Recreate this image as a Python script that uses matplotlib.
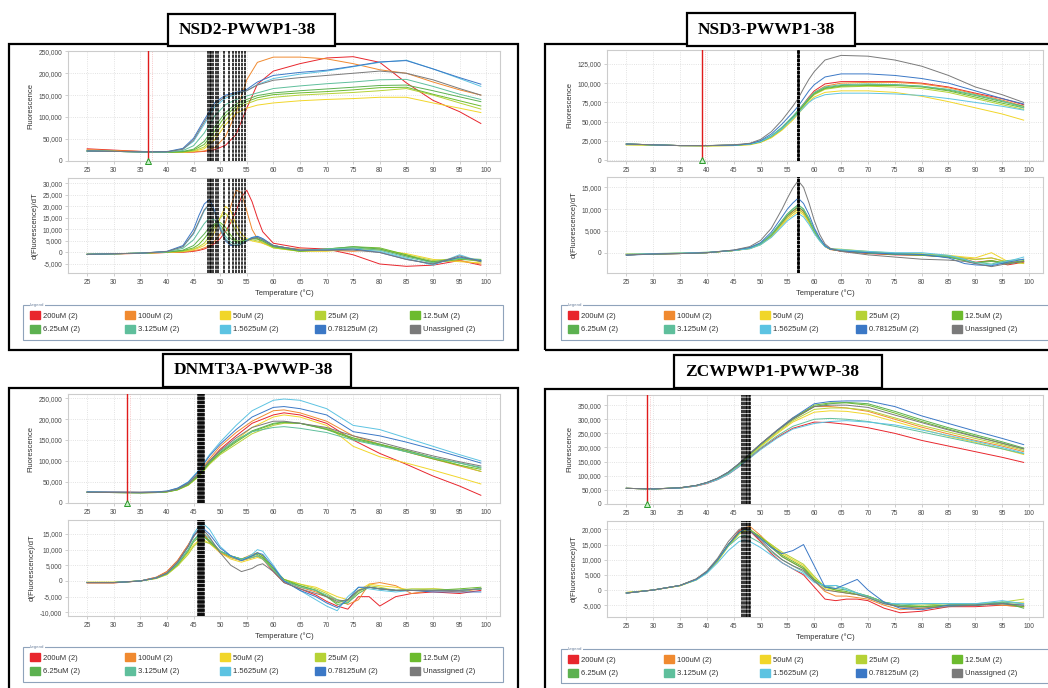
import matplotlib.pyplot as plt
from matplotlib.patches import Rectangle, Patch
from matplotlib.ticker import FuncFormatter

W, H = 1048, 688

# legend groups (same in every panel)
groups = ['200uM (2)', '100uM (2)', '50uM (2)', '25uM (2)', '12.5uM (2)',
          '6.25uM (2)', '3.125uM (2)', '1.5625uM (2)', '0.78125uM (2)', 'Unassigned (2)']
group_colors = ['#e8262d', '#f08a30', '#f1d62a', '#b6d236', '#6cbb2e',
                '#5cb150', '#5fbf9c', '#5cc3e2', '#3b78c6', '#7a7a7a']

titles = ['NSD2-PWWP1-38', 'NSD3-PWWP1-38', 'DNMT3A-PWWP-38', 'ZCWPWP1-PWWP-38']
thresholds = [36.5, 39.0, 32.4, 28.8]
xticks = list(range(25, 101, 5))

# ---------------- NSD2 (values in thousands) ----------------
nsd2_temp_f = [25, 30, 35, 40, 43, 45, 47, 49, 51, 53, 55, 57, 60, 65, 70, 75, 80, 85, 90, 95, 99]
nsd2_fluor = [
    [27, 24, 21, 19, 19, 19.5, 21, 25, 35, 60, 120, 175, 205, 222, 235, 238, 225, 178, 138, 112, 85],
    [25, 23, 21, 19, 19, 20, 22, 30, 55, 110, 185, 225, 237, 237, 233, 222, 208, 200, 180, 162, 150],
    [22, 21, 20, 19, 19, 21, 27, 48, 82, 108, 120, 127, 132, 137, 140, 142, 145, 145, 132, 120, 110],
    [22, 21, 20, 19, 19.5, 22, 31, 58, 92, 118, 130, 139, 145, 150, 153, 156, 160, 165, 150, 132, 118],
    [22, 21, 20, 19, 20, 24, 37, 68, 103, 124, 135, 144, 151, 155, 158, 162, 167, 168, 152, 137, 125],
    [22, 21, 20, 19, 21, 26, 44, 78, 110, 130, 140, 149, 155, 160, 164, 168, 172, 173, 160, 146, 135],
    [22, 21, 20, 19.5, 23, 34, 63, 103, 128, 140, 148, 155, 165, 171, 176, 180, 185, 186, 170, 152, 140],
    [22, 21, 20, 20, 26, 44, 83, 123, 143, 152, 160, 174, 188, 198, 205, 215, 225, 230, 210, 188, 170],
    [22, 21, 20, 20.5, 28, 51, 93, 133, 150, 156, 163, 180, 195, 202, 207, 216, 226, 229, 210, 190, 175],
    [22, 21, 20, 20, 26, 47, 88, 128, 147, 154, 160, 173, 184, 190, 195, 200, 205, 200, 185, 165, 150],
]
nsd2_temp_d = [25, 35, 40, 43, 45, 46, 47, 48, 49, 50, 51, 52, 53, 54, 55, 56, 57, 58, 60, 65, 70, 75, 80, 85, 90, 95, 99]
nsd2_deriv = [
    [-0.8, -0.4, 0, 0.1, 0.5, 0.9, 1.5, 2.5, 4, 6, 9, 13, 18, 24, 27, 22, 15, 9, 4, 2, 1.5, -1, -5, -6, -5.5, -3.5, -5.5],
    [-0.8, -0.4, 0, 0.2, 0.8, 1.2, 2, 3, 5, 8, 13, 20, 27, 26, 18, 10, 6, 4, 2.5, 1.5, 1, 0.5, 1.5, -1.5, -4, -3.5, -5],
    [-0.8, -0.3, 0.1, 0.4, 1.2, 2, 3, 5, 9, 15, 20, 18, 12, 8, 6, 5, 4.5, 4, 2, 0.5, 0.5, 1.5, 1, -0.5, -3, -4, -4.5],
    [-0.8, -0.3, 0.1, 0.5, 1.5, 2.5, 4, 7, 11, 15, 17, 14, 9, 6, 5.5, 5.5, 5, 4.5, 2, 0.5, 1, 2, 1.5, -1, -3.5, -2.5, -4],
    [-0.8, -0.3, 0.2, 0.8, 2, 3.5, 6, 9, 12, 13, 11, 7.5, 5, 5, 5.5, 6, 5.8, 5, 2.5, 0.5, 1.5, 2.5, 2, -1, -4.5, -3, -3.5],
    [-0.8, -0.3, 0.2, 1, 3, 5.5, 8, 11, 12.5, 12, 9, 6, 4.5, 4.5, 5.5, 6, 6, 5, 2.5, 0.8, 1.5, 2.5, 1.5, -1.5, -4, -2.5, -3],
    [-0.8, -0.3, 0.3, 1.8, 5.5, 9, 12.5, 15, 14, 11, 7, 4.5, 3.5, 4, 5.5, 6.5, 6.5, 5.5, 3, 1, 1.5, 2, 1, -2, -4.5, -2.5, -3.5],
    [-0.8, -0.3, 0.4, 2.5, 8, 13, 18, 21, 17, 11, 6, 3.5, 3, 3.5, 5, 6.5, 7, 6, 3, 1, 1.2, 1.5, 0.5, -2.5, -5.5, -1, -4],
    [-0.8, -0.3, 0.5, 3, 10, 16, 21, 23, 18, 10, 5, 3, 3, 3.5, 5, 6.5, 7, 6, 3, 1, 1, 1.5, 0, -3, -5, -2, -3.5],
    [-0.8, -0.3, 0.4, 2.5, 8.5, 13.5, 18.5, 21, 17, 10, 5.5, 3.5, 3, 3.5, 5, 6, 6.5, 5.5, 3, 1, 1, 1, 0, -3, -5, -1.5, -4],
]
nsd2_tm = [47.7, 48.0, 48.3, 48.7, 49.3, 49.6, 50.7, 51.7, 52.5, 52.9, 53.5, 54.1, 54.6]

# ---------------- NSD3 ----------------
nsd3_temp_f = [25, 30, 35, 40, 45, 48, 50, 52, 54, 56, 57, 58, 59, 60, 62, 65, 70, 75, 80, 85, 90, 95, 99]
nsd3_fluor = [
    [21, 20, 19, 19, 19.5, 21, 24, 31, 42, 56, 64, 73, 82, 90, 99, 102, 102, 102, 100, 95, 87, 80, 72],
    [21, 20, 19, 19, 19.5, 21, 24, 31, 41, 55, 63, 72, 80, 88, 96, 100, 101, 101, 99, 94, 86, 78, 70],
    [20, 19.5, 19, 18.5, 19, 20, 23, 29, 39, 52, 60, 68, 76, 82, 88, 90, 90, 88, 83, 76, 68, 60, 52],
    [20, 19.5, 19, 18.5, 19, 20.5, 23.5, 30, 40, 54, 62, 70, 78, 85, 92, 95, 96, 95, 93, 88, 80, 72, 66],
    [21, 20, 19, 19, 19.5, 21, 24, 31, 41, 55, 63, 71, 79, 86, 93, 96, 97, 97, 95, 90, 82, 74, 68],
    [21, 20, 19, 19, 19.5, 21, 24, 31, 42, 56, 64, 72, 80, 87, 94, 97, 98, 98, 96, 91, 84, 76, 70],
    [21, 20, 19, 19, 19.5, 21, 24.5, 32, 43, 57, 65, 73, 81, 88, 95, 98, 99, 98, 96, 92, 85, 77, 68],
    [21, 20, 19, 19, 19.5, 21, 24, 31, 41, 54, 61, 68, 75, 80, 85, 87, 87, 86, 84, 80, 75, 70, 65],
    [21, 20, 19, 19, 19.5, 21.5, 25.5, 34, 47, 62, 70, 80, 90, 98, 108, 112, 112, 110, 106, 100, 90, 80, 73],
    [21, 20, 19, 19, 20, 22, 27, 37, 52, 70, 80, 93, 105, 115, 130, 136, 135, 130, 122, 110, 95, 85, 75],
]
nsd3_temp_d = [25, 30, 35, 40, 45, 48, 50, 52, 54, 55, 56, 57, 58, 59, 60, 61, 62, 63, 65, 70, 75, 80, 85, 88, 90, 93, 96, 99]
nsd3_deriv = [
    [-0.5, -0.3, -0.2, 0, 0.5, 1, 2, 4, 7, 8.5, 9.5, 10.5, 9.5, 7.5, 5, 3, 1.5, 0.8, 0.3, -0.2, -0.5, -0.6, -1, -1.5, -2.2, -1.8, -2.8, -2.2],
    [-0.5, -0.3, -0.2, 0, 0.5, 1, 2, 3.9, 6.7, 8.1, 9.1, 10, 9.1, 7.2, 4.8, 2.9, 1.4, 0.7, 0.4, 0, -0.4, -0.5, -0.9, -1.2, -1.5, -1.2, -2.2, -2],
    [-0.4, -0.3, -0.1, 0, 0.5, 0.9, 1.8, 3.6, 6.3, 7.7, 8.6, 9.5, 8.7, 6.9, 4.6, 2.8, 1.4, 0.8, 0.6, 0.2, -0.2, -0.3, -0.6, -1, -1.2, 0, -2, -2.5],
    [-0.3, -0.2, -0.1, 0.1, 0.5, 1, 1.9, 3.8, 6.6, 8.1, 9.1, 10, 9.1, 7.1, 4.8, 2.9, 1.5, 0.9, 0.8, 0.3, -0.1, -0.3, -0.7, -1.3, -1.6, -1.2, -2.1, -2.4],
    [-0.5, -0.3, -0.2, 0, 0.5, 1.1, 2.1, 4.2, 7.3, 8.9, 10, 11, 10, 7.9, 5.2, 3.1, 1.5, 0.8, 0.5, 0, -0.3, -0.5, -1, -1.8, -2.3, -1.8, -2.4, -1.8],
    [-0.5, -0.3, -0.2, 0, 0.5, 1, 2, 4, 7, 8.5, 9.6, 10.5, 9.6, 7.6, 5, 3, 1.5, 0.8, 0.4, -0.1, -0.4, -0.6, -1, -1.8, -2.4, -2, -2.6, -2],
    [-0.4, -0.3, -0.1, 0, 0.5, 1.1, 2.1, 4.2, 7.3, 8.9, 10, 11, 10, 7.8, 5.2, 3.1, 1.5, 0.9, 0.6, 0.1, -0.2, -0.4, -0.8, -1.6, -2.2, -2.6, -1.8, -1.5],
    [-0.4, -0.2, -0.1, 0.1, 0.5, 0.9, 1.8, 3.5, 6, 7.3, 8.2, 9, 8.2, 6.5, 4.4, 2.7, 1.4, 0.9, 0.7, 0.3, 0, 0, -0.6, -1.5, -2.5, -2.8, -2, -1],
    [-0.6, -0.3, -0.2, 0, 0.6, 1.2, 2.3, 4.7, 8.2, 10, 11.4, 12.5, 11.3, 8.8, 5.7, 3.4, 1.6, 0.8, 0.4, 0, -0.3, -0.4, -1.2, -2.5, -2.8, -3, -2.2, -1.5],
    [-0.5, -0.3, -0.2, 0, 0.6, 1.4, 2.8, 5.6, 10, 12.5, 14.8, 16.5, 15, 11.5, 7.4, 4.2, 2, 1, 0.3, -0.5, -1, -1.5, -1.7, -2, -2.5, -3.2, -2.5, -2],
]
nsd3_tm = [56.9, 57.0, 57.1, 57.2]

# ---------------- DNMT3A ----------------
dnmt_temp_f = [25, 30, 35, 38, 40, 42, 44, 46, 48, 50, 53, 56, 60, 62, 65, 70, 75, 80, 85, 90, 95, 99]
dnmt_fluor = [
    [26, 25.5, 25, 25.5, 27, 33, 45, 68, 100, 128, 160, 190, 210, 215, 210, 190, 150, 118, 92, 64, 40, 18],
    [26, 25.5, 25, 25.5, 27, 34, 47, 72, 105, 135, 168, 195, 220, 222, 215, 195, 160, 140, 122, 105, 88, 75],
    [25, 24.5, 24, 24.5, 26, 31, 42, 64, 95, 120, 150, 180, 205, 210, 205, 185, 135, 110, 95, 78, 60, 45],
    [25, 24.5, 24, 24.5, 26, 31, 42, 63, 92, 115, 140, 165, 185, 190, 190, 178, 155, 140, 125, 108, 90, 75],
    [25, 24.5, 24, 24.5, 26, 31, 43, 65, 95, 118, 145, 170, 188, 192, 190, 175, 152, 138, 122, 105, 90, 80],
    [25, 24.5, 24, 24.5, 26.5, 32, 44, 67, 97, 120, 148, 172, 190, 193, 190, 176, 155, 140, 125, 108, 95, 83],
    [25, 24.5, 24, 25, 27, 33, 46, 70, 100, 123, 150, 170, 180, 182, 178, 168, 150, 136, 122, 108, 95, 85],
    [26, 25.5, 25, 26, 28, 35, 50, 78, 115, 145, 185, 220, 245, 248, 245, 225, 185, 175, 155, 135, 115, 100],
    [26, 25.5, 25, 26, 28, 35, 49, 76, 112, 140, 175, 205, 228, 230, 225, 210, 170, 160, 145, 128, 110, 95],
    [25, 24.5, 24, 25, 27, 33, 46, 70, 100, 125, 155, 180, 195, 195, 190, 180, 160, 145, 128, 112, 98, 88],
]
dnmt_temp_d = [25, 30, 35, 38, 40, 42, 44, 45, 46, 47, 48, 50, 52, 54, 56, 57, 58, 60, 62, 65, 68, 70, 72, 74, 76, 78, 80, 83, 86, 90, 95, 99]
dnmt_deriv = [
    [-0.6, -0.6, 0, 1.2, 3, 6.5, 11.5, 14.5, 16, 15, 12.5, 9, 7.5, 6.5, 7.5, 8, 7, 3, -0.5, -2.5, -4.5, -6.5, -8, -9, -5, -5, -8, -5, -4, -3.5, -4, -3],
    [-0.6, -0.6, 0, 1.2, 3, 6.5, 11.5, 14.5, 16, 15, 12.5, 9.5, 8, 7, 8.5, 9, 8, 3.5, 0, -2, -3.5, -5, -6, -7.5, -6, -1, -0.5, -1.5, -4, -3, -3.5, -2.5],
    [-0.4, -0.4, 0, 0.8, 2.2, 5, 9, 11.5, 13, 13, 12, 9, 7, 6, 7, 7.5, 7, 3.5, 0.5, -1, -2, -3.5, -5, -6, -3, -1, -1.5, -2, -3, -2.5, -3, -2.5],
    [-0.4, -0.4, 0, 0.8, 2, 4.8, 8.5, 11, 12.5, 12.5, 12, 9.5, 7.5, 6.5, 7.5, 8, 7.5, 4, 0.5, -1, -2.5, -4, -6, -6.5, -3.5, -1.5, -2, -3, -2.5, -2.5, -3, -2.5],
    [-0.5, -0.5, 0, 0.9, 2.3, 5.2, 9.5, 12.5, 14, 14, 13, 9.5, 8, 7, 8, 9, 8, 4, 0.5, -1.5, -3, -5, -7, -6, -3, -2, -2.5, -3, -3, -3, -2.5, -2],
    [-0.5, -0.5, 0, 1, 2.5, 5.5, 10, 13, 14.5, 14, 12.5, 9.5, 8, 7, 8, 8.5, 7.5, 3.5, 0, -1.5, -3, -5, -7.5, -7, -4, -2, -2.5, -3, -3, -3, -3, -2.5],
    [-0.5, -0.5, 0, 1, 2.5, 5.5, 10, 13, 15, 15, 13.5, 9.5, 8, 7, 7.5, 8, 7, 3.5, 0, -2, -3, -4.5, -6, -7, -3, -2, -2.5, -3, -3, -3, -3, -2.5],
    [-0.5, -0.5, 0, 1, 2.5, 6, 11, 15, 17.5, 18, 16.5, 11, 8, 6.5, 8.5, 10, 9.5, 5, 0, -3, -6, -8, -9.5, -5, -2, -2.5, -3, -3.5, -3, -3, -3, -2.5],
    [-0.5, -0.5, 0, 1, 2.5, 6, 11, 14.5, 16.5, 16.5, 15, 10.5, 8, 6.5, 8, 9, 8.5, 4.5, 0, -3, -5, -7, -8.5, -6, -2, -2, -2.5, -3, -3, -3.5, -3.5, -3.5],
    [-0.5, -0.5, 0, 1, 2.5, 6, 11, 14, 16.5, 16, 14, 9, 5, 3, 4, 5, 5.5, 3, -0.5, -2.5, -4, -5, -6.5, -6, -3, -2, -2.5, -3, -3, -3, -3, -2.5],
]
dnmt_tm = [45.8, 46.0, 46.2, 46.4, 46.6, 46.8, 47.0]

# ---------------- ZCWPWP1 ----------------
zcw_temp_f = [25, 30, 35, 38, 40, 42, 44, 46, 48, 50, 53, 56, 60, 63, 66, 70, 75, 80, 85, 90, 95, 99]
zcw_fluor = [
    [55, 53, 56, 63, 72, 86, 105, 132, 163, 195, 235, 268, 290, 288, 282, 270, 250, 225, 205, 185, 165, 147],
    [55, 53, 57, 65, 75, 90, 112, 142, 178, 212, 260, 305, 345, 345, 340, 328, 300, 272, 248, 225, 205, 185],
    [55, 53, 56, 64, 74, 88, 108, 137, 170, 203, 248, 290, 325, 330, 328, 318, 292, 265, 240, 218, 195, 175],
    [55, 53, 56.5, 64.5, 74.5, 89, 110, 139, 173, 206, 252, 295, 335, 340, 340, 332, 305, 278, 255, 232, 210, 190],
    [55, 53, 57, 65, 75, 90, 111, 141, 176, 210, 258, 302, 350, 358, 358, 350, 322, 292, 265, 240, 215, 195],
    [55, 53, 57, 65, 75.5, 90.5, 112, 142, 177, 211, 258, 300, 345, 355, 360, 355, 328, 298, 270, 245, 220, 198],
    [55, 53, 56.5, 64, 74, 88, 108, 136, 168, 198, 240, 275, 300, 303, 300, 292, 275, 255, 235, 215, 195, 178],
    [55, 53, 56, 63.5, 73, 86, 105, 132, 162, 192, 232, 265, 285, 292, 295, 290, 280, 262, 242, 222, 200, 180],
    [55, 53, 57, 65.5, 76, 91, 113, 143, 178, 212, 260, 305, 355, 363, 365, 365, 345, 312, 285, 258, 232, 210],
    [55, 53, 57, 65, 75.5, 91, 112, 143, 178, 212, 258, 300, 345, 350, 350, 342, 315, 288, 262, 238, 215, 195],
]
zcw_temp_d = [25, 30, 35, 38, 40, 42, 44, 46, 47, 48, 50, 52, 54, 56, 58, 60, 62, 64, 66, 68, 70, 73, 76, 80, 85, 90, 95, 99]
zcw_deriv = [
    [-1, 0, 1.5, 3.5, 6, 10, 15, 19.5, 20.5, 19.5, 16, 12, 9, 7, 5, 1, -3, -3.5, -3, -3, -3.5, -6, -7.5, -7, -5.5, -5.5, -5, -5.5],
    [-1, 0, 1.5, 3.5, 6, 9.8, 14.8, 19, 20.5, 21, 18, 14.5, 11, 9, 7, 3, -0.5, -2, -2, -2.5, -3, -5, -6.5, -6, -5, -4.5, -5, -5.5],
    [-0.8, 0, 1.4, 3.3, 5.7, 9.5, 14.5, 18.5, 19.5, 19.5, 17.5, 15, 12, 10, 8, 4, 0.5, -0.5, -1, -1.5, -2, -4, -5.5, -5.5, -5, -5, -4.5, -4],
    [-0.8, 0, 1.4, 3.3, 5.7, 9.5, 14.5, 18.5, 19.5, 19.5, 17.5, 15, 12.5, 10.5, 8.5, 4.5, 1, 0, -1, -1.5, -2, -4, -5, -5, -4.5, -5, -4, -3],
    [-1, 0, 1.5, 3.5, 6, 10, 15, 19, 20, 20, 17.5, 14.5, 11.5, 9.5, 7.5, 3.5, 1, 0, -0.5, -1.5, -2.5, -4.5, -5.5, -5.5, -5, -5, -4.5, -5.5],
    [-1, 0, 1.5, 3.5, 6, 10, 15, 19, 20, 19.5, 17, 14, 11, 9, 7, 3.5, 1, 0.5, 0, -1, -2, -4, -5, -5.5, -5, -5, -4, -6],
    [-1, 0, 1.5, 3.5, 6, 10, 14.5, 17.5, 18, 17.5, 15.5, 12.5, 10, 8, 6, 3, 1, 1.5, 0.5, -1, -2, -4, -5, -4.5, -4.5, -4.5, -4, -4.5],
    [-1, 0, 1.5, 3.3, 5.5, 9, 13, 16, 16.5, 16, 14, 11.5, 9, 7, 5.5, 2.5, 1.5, 1.5, 0, -1, -2.5, -4.5, -4.5, -4.5, -4.5, -4.5, -3.5, -4.5],
    [-1, 0, 1.5, 3.5, 6, 10, 15, 19, 20, 19.5, 17, 14, 12, 13, 15, 8, 1, 0.5, 2, 3.5, 0, -4, -6, -6.5, -5, -5, -4.5, -5],
    [-1, 0, 1.5, 3.7, 6.3, 10.5, 16, 20, 20.5, 19.5, 16.5, 13, 10, 8, 6.5, 3, 0, -0.5, -1, -1.5, -2.5, -4.5, -5.5, -6, -5.5, -5, -4.5, -5],
]
zcw_tm = [46.6, 46.9, 47.2, 47.5, 47.8, 48.1]

panel_data = [
    (nsd2_temp_f, nsd2_fluor, nsd2_temp_d, nsd2_deriv, nsd2_tm),
    (nsd3_temp_f, nsd3_fluor, nsd3_temp_d, nsd3_deriv, nsd3_tm),
    (dnmt_temp_f, dnmt_fluor, dnmt_temp_d, dnmt_deriv, dnmt_tm),
    (zcw_temp_f, zcw_fluor, zcw_temp_d, zcw_deriv, zcw_tm),
]
fluor_ticks = [range(0, 250001, 50000), range(0, 125001, 25000),
               range(0, 250001, 50000), range(0, 350001, 50000)]
deriv_ticks = [range(-5000, 30001, 5000), range(0, 15001, 5000),
               range(-10000, 15001, 5000), range(-5000, 20001, 5000)]

# layout in pixels (x0, y0, x1, y1), measured from the top-left corner
fluor_lims = [(-1000, 251000), (-1000, 143000), (-500, 260000), (-500, 386000)]
deriv_lims = [(-8900, 32300), (-4660, 17360), (-11180, 19470), (-8900, 22770)]
fluor_box = [(68, 51, 500, 161), (607, 50, 1043, 161), (68, 394, 500, 503), (607, 395, 1043, 504)]
deriv_box = [(68, 178, 500, 273), (607, 177, 1043, 273), (68, 520, 500, 616), (607, 521, 1043, 617)]
frame_box = [(9, 44, 518, 350), (545, 44, 1062, 350), (9, 388, 518, 700), (545, 389, 1062, 700)]
title_box = [(168, 14, 335, 46), (687, 13, 855, 46), (163, 354, 351, 387), (674, 355, 882, 388)]
legend_box = [(23, 305, 503, 340), (561, 305, 1061, 340), (23, 647, 503, 682), (561, 649, 1061, 683)]
legend_col_step = [95, 96, 95, 96]


def fig_rect(b):
    x0, y0, x1, y1 = b
    return [x0 / W, 1 - y1 / H, (x1 - x0) / W, (y1 - y0) / H]


def style_axes(ax, yticks, ylim):
    ax.set_xlim(21.4, 102.6)
    ax.set_ylim(*ylim)
    ax.set_xticks(xticks)
    ax.set_yticks(list(yticks))
    ax.yaxis.set_major_formatter(FuncFormatter(lambda v, p: f'{v:,.0f}'))
    ax.tick_params(labelsize=4.8, colors='#4a4a4a', length=2, width=0.5, pad=2)
    ax.tick_params(axis='both', color='#bbbbbb')
    ax.grid(True, color='#d9d9d9', linestyle=':', linewidth=0.6)
    for s in ax.spines.values():
        s.set_color('#cccccc')
        s.set_linewidth(0.8)


plt.rcParams['font.family'] = ['Liberation Sans', 'DejaVu Sans']
fig = plt.figure(figsize=(W / 100, H / 100), dpi=100)

for i in range(4):
    tf, fl, td, dv, tm = panel_data[i]

    # panel frame and title box
    fx0, fy0, fx1, fy1 = frame_box[i]
    fig.add_artist(Rectangle((fx0 / W, 1 - fy1 / H), (fx1 - fx0) / W, (fy1 - fy0) / H,
                             transform=fig.transFigure, fill=False, ec='black', lw=1.6, zorder=1))
    tx0, ty0, tx1, ty1 = title_box[i]
    fig.add_artist(Rectangle((tx0 / W, 1 - ty1 / H), (tx1 - tx0) / W, (ty1 - ty0) / H,
                             transform=fig.transFigure, fc='white', ec='black', lw=1.6, zorder=5))
    fig.text((tx0 + 11) / W, 1 - (ty0 + ty1) / 2 / H, titles[i], family='Liberation Serif',
             fontweight='bold', fontsize=12.5, ha='left', va='center', zorder=6)

    # fluorescence curves
    ax1 = fig.add_axes(fig_rect(fluor_box[i]))
    style_axes(ax1, fluor_ticks[i], fluor_lims[i])
    for vals, c in zip(fl, group_colors):
        ax1.plot(tf, [v * 1000 for v in vals], color=c, lw=0.7)
    ax1.set_ylabel('Fluorescence', fontsize=5.5, color='#333333', labelpad=3)
    ax1.axvline(thresholds[i], color='#e01b1b', lw=1.0, zorder=4)
    ax1.axvline(thresholds[i] + 0.6, color='#f2a0a0', lw=0.5, ls=':', zorder=3)
    ax1.plot([thresholds[i]], [0], marker='^', ms=4, mfc='#c8f0c8', mec='#2a9a2a',
             mew=0.7, clip_on=False, zorder=6)

    # derivative curves
    ax2 = fig.add_axes(fig_rect(deriv_box[i]))
    style_axes(ax2, deriv_ticks[i], deriv_lims[i])
    for vals, c in zip(dv, group_colors):
        ax2.plot(td, [v * 1000 for v in vals], color=c, lw=0.7)
    ax2.set_ylabel('d(Fluorescence)/dT', fontsize=5.5, color='#333333', labelpad=3)
    ax2.set_xlabel('Temperature (°C)', fontsize=5.5, color='#333333', labelpad=3)

    # melting temperature markers
    for ax in (ax1, ax2):
        for t in tm:
            ax.axvline(t, color='black', lw=1.1, ls=(0, (2.2, 0.5)), zorder=5)

    # legend: frame box plus one two-row legend per column
    lx0, ly0, lx1, ly1 = legend_box[i]
    fig.add_artist(Rectangle((lx0 / W, 1 - ly1 / H), (lx1 - lx0) / W, (ly1 - ly0) / H,
                             transform=fig.transFigure, fill=False, ec='#8fa3bb', lw=0.8, zorder=2))
    for k in range(5):
        handles = [Patch(fc=group_colors[j], ec=group_colors[j], label=groups[j]) for j in (k, k + 5)]
        leg = fig.legend(handles=handles, loc='upper left',
                         bbox_to_anchor=((lx0 + 7 + k * legend_col_step[i]) / W, 1 - (ly0 + 6) / H),
                         bbox_transform=fig.transFigure, fontsize=5.5, frameon=False,
                         handlelength=1.3, handleheight=1.3, handletextpad=0.4,
                         labelspacing=0.66, borderpad=0, borderaxespad=0)
        for txt in leg.get_texts():
            txt.set_color('#333333')
    fig.text((lx0 + 7) / W, 1 - ly0 / H, 'Legend', fontsize=3.2, color='#6f84a0',
             ha='left', va='center', zorder=7,
             bbox=dict(fc='white', ec='none', pad=0.3))

fig.savefig('out.png', dpi=100)
